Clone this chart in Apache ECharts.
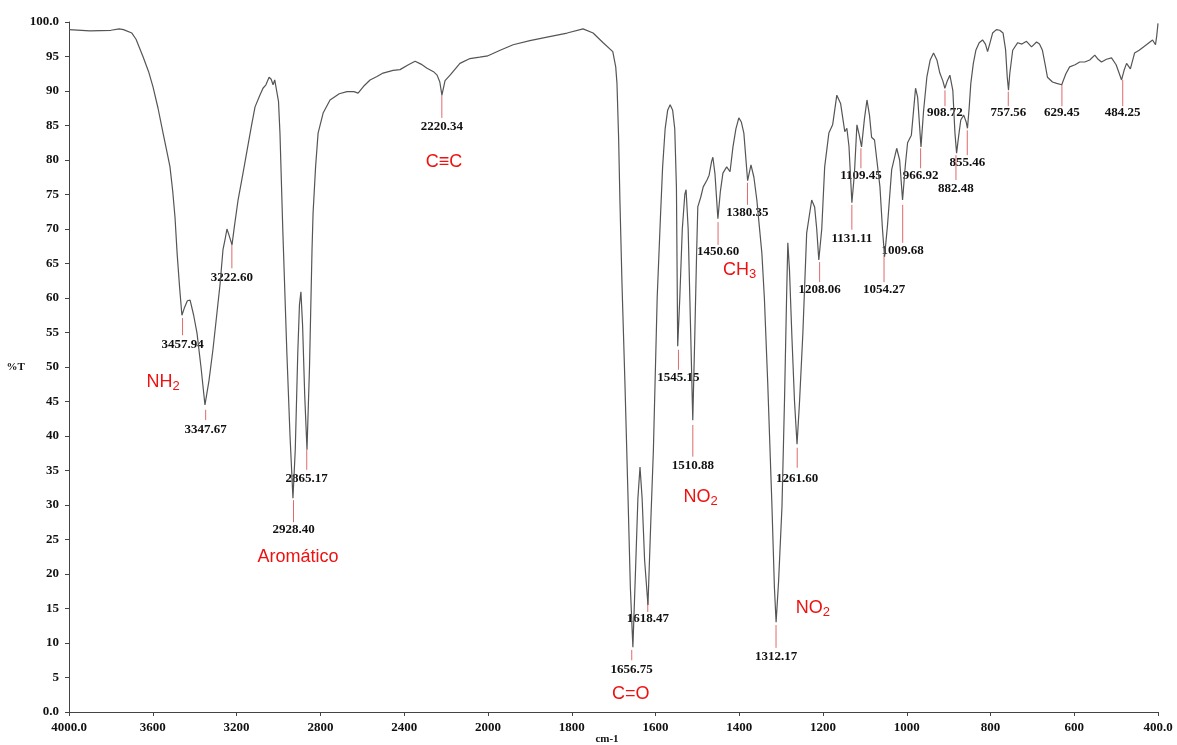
<!DOCTYPE html>
<html>
<head>
<meta charset="utf-8">
<title>Espectro IR</title>
<script src="https://cdn.jsdelivr.net/npm/echarts@6/dist/echarts.min.js"></script>
<style>
  html, body { margin: 0; padding: 0; background: #fff; }
  #chart-container { width: 1177px; height: 745px; }
</style>
</head>
<body>
<div id="chart-container"></div>
<script>
// spectrum (cm-1 / %T)
const wavenumbers = [
  4000, 3900, 3800, 3760, 3740, 3700, 3680, 3647, 3620, 3599,
  3575, 3551, 3530, 3518, 3505, 3494, 3484, 3472, 3461, 3450,
  3435, 3422, 3405, 3389, 3370, 3351, 3332, 3313, 3295, 3279,
  3265, 3255, 3246, 3235, 3222, 3210, 3193, 3170, 3150, 3130,
  3112, 3090, 3074, 3060, 3045, 3035, 3026, 3018, 3012, 3000,
  2993, 2979, 2960, 2945, 2931, 2920, 2908, 2900, 2893, 2885,
  2875, 2864, 2852, 2840, 2835, 2823, 2811, 2787, 2754, 2710,
  2673, 2640, 2620, 2590, 2563, 2530, 2501, 2453, 2420, 2380,
  2348, 2320, 2291, 2260, 2243, 2230, 2220, 2205, 2181, 2134,
  2086, 2040, 2000, 1971, 1940, 1900, 1859, 1811, 1773, 1749,
  1725, 1702, 1695, 1692, 1688, 1685, 1680, 1673, 1666, 1660,
  1654, 1648, 1642, 1637, 1632, 1626, 1618, 1611, 1605, 1596,
  1588, 1583, 1577, 1571, 1565, 1559, 1554, 1550, 1547, 1542,
  1536, 1530, 1527, 1522, 1516, 1511, 1506, 1502, 1499, 1492,
  1486, 1477, 1472, 1466, 1463, 1458, 1451, 1445, 1439, 1430,
  1422, 1415, 1408, 1401, 1395, 1389, 1380, 1372, 1365, 1358,
  1346, 1340, 1332, 1322, 1316, 1312, 1306, 1298, 1292, 1287,
  1284, 1280, 1274, 1268, 1262, 1256, 1248, 1239, 1227, 1220,
  1215, 1210, 1203, 1196, 1186, 1177, 1167, 1158, 1148, 1143,
  1138, 1131, 1125, 1119, 1113, 1108, 1101, 1095, 1089, 1084,
  1077, 1064, 1058, 1053, 1046, 1036, 1024, 1017, 1010, 1003,
  998, 989, 979, 974, 966, 960, 952, 944, 936, 928,
  921, 914, 909, 903, 897, 890, 885, 881, 876, 871,
  864, 858, 855, 851, 847, 841, 835, 827, 819, 812,
  807, 801, 795, 786, 778, 770, 764, 760, 757, 754,
  747, 735, 725, 714, 702, 690, 683, 676, 670, 664,
  652, 642, 630, 620, 611, 598, 587, 575, 563, 551,
  543, 535, 523, 511, 500, 487, 481, 475, 466, 456,
  445, 430, 413, 406, 403, 400
];
const transmittance = [
  98.9, 98.7, 98.8, 99.0, 98.9, 98.4, 97.5, 95.0, 92.8, 90.6,
  87.5, 83.9, 80.8, 79.0, 75.5, 71.7, 66.5, 61.5, 57.5, 58.5,
  59.6, 59.7, 57.5, 54.9, 50.0, 44.5, 48.0, 52.5, 57.5, 62.0,
  67.0, 68.5, 70.0, 69.0, 67.7, 70.5, 74.2, 78.0, 81.4, 84.8,
  87.7, 89.3, 90.4, 90.9, 92.0, 91.7, 90.9, 91.6, 91.7, 88.5,
  83.9, 69.4, 52.0, 40.0, 31.0, 38.0, 52.0, 59.0, 60.9, 56.0,
  46.0, 38.0, 50.0, 67.0, 72.3, 79.0, 83.9, 86.8, 88.7, 89.6,
  89.9, 89.9, 89.7, 90.8, 91.6, 92.1, 92.6, 93.0, 93.1, 93.8,
  94.3, 93.9, 93.3, 92.8, 92.3, 91.3, 89.4, 91.5, 92.3, 94.0,
  94.7, 94.9, 95.1, 95.9, 96.7, 97.3, 97.8, 98.4, 99.0, 98.4,
  97.0, 95.7, 93.5, 91.1, 83.0, 74.2, 62.0, 47.7, 32.0, 18.0,
  9.4, 20.0, 31.0, 35.5, 31.0, 22.0, 15.5, 28.0, 38.0, 60.0,
  72.0, 79.0, 84.5, 87.2, 88.0, 87.2, 84.5, 76.0, 53.0, 60.0,
  70.0, 75.0, 75.7, 70.0, 55.0, 42.3, 55.0, 66.0, 73.2, 74.6,
  76.1, 77.1, 77.8, 79.8, 80.4, 78.0, 71.5, 75.5, 78.1, 79.0,
  78.3, 81.9, 84.5, 86.1, 85.5, 83.9, 77.0, 79.3, 77.5, 74.2,
  66.5, 60.0, 47.7, 30.0, 18.0, 13.0, 19.0, 29.7, 45.0, 60.0,
  68.0, 64.0, 54.0, 45.0, 38.8, 45.0, 55.0, 69.4, 74.2, 73.2,
  70.0, 65.5, 70.0, 79.0, 83.9, 85.1, 89.4, 88.2, 84.1, 84.6,
  82.0, 73.8, 78.0, 85.1, 83.5, 81.9, 86.0, 88.7, 86.5, 83.3,
  82.9, 76.1, 70.0, 66.0, 70.5, 78.6, 81.7, 80.0, 74.2, 79.5,
  82.5, 83.6, 90.4, 89.1, 81.9, 87.0, 92.0, 94.5, 95.5, 94.5,
  92.6, 91.5, 90.4, 91.5, 92.3, 90.1, 84.0, 81.0, 83.5, 85.8,
  86.5, 85.5, 84.6, 87.5, 91.1, 94.0, 95.9, 97.0, 97.4, 96.8,
  95.7, 97.0, 98.4, 98.9, 98.8, 98.4, 96.0, 92.0, 90.1, 92.5,
  95.9, 97.0, 96.8, 97.2, 96.4, 97.1, 96.8, 95.9, 94.0, 92.0,
  91.3, 91.1, 90.9, 92.5, 93.5, 93.8, 94.2, 94.2, 94.5, 95.2,
  94.6, 94.2, 94.6, 94.8, 93.8, 91.6, 93.0, 94.0, 93.2, 95.5,
  95.9, 96.6, 97.4, 96.7, 98.0, 99.8
];

// picked peaks
const peakWavenumbers = [
  3457.94, 3347.67, 3222.60, 2928.40, 2865.17, 2220.34, 1656.75, 1618.47, 1545.15,
  1510.88, 1450.60, 1380.35, 1312.17, 1261.60, 1208.06, 1131.11, 1109.45, 1054.27,
  1009.68, 966.92, 908.72, 882.48, 855.46, 757.56, 629.45, 484.25
];
const peakLabels = peakWavenumbers.map(w => w.toFixed(2));

// functional group notes
const groupNames = ['NH{s|2}', 'Aromático', 'C≡C', 'C=O', 'NO{s|2}', 'CH{s|3}', 'NO{s|2}'];
const groupWavenumbers = [3551, 2907, 2210, 1659, 1492, 1399, 1224];

// placement of the peak marks (in %T): top of red tick, bottom of tick, label centre
const peakTickTop = [57.1, 43.8, 67.7, 30.7, 38.0, 89.4, 9.0, 16.2, 52.5, 41.6, 71.0, 76.7, 12.6,
  38.3, 65.2, 73.5, 81.7, 66.2, 73.5, 81.7, 90.1, 80.7, 84.3, 89.9, 90.9, 91.6];
const peakTickBottom = [54.6, 42.3, 64.3, 27.5, 35.1, 86.1, 7.5, 14.5, 49.6, 37.0, 67.7, 73.5, 9.3,
  35.4, 62.3, 69.9, 78.8, 62.3, 68.0, 78.8, 87.8, 77.1, 80.7, 87.8, 87.8, 87.8];
const peakLabelAt = [53.2, 40.9, 62.9, 26.4, 33.8, 84.9, 6.2, 13.5, 48.4, 35.7, 66.7, 72.3, 8.0,
  33.8, 61.2, 68.6, 77.8, 61.2, 66.8, 77.8, 86.8, 75.8, 79.6, 86.8, 86.8, 86.8];
const groupLabelAt = [47.8, 22.5, 79.7, 2.6, 31.2, 64.0, 15.1];

const BREAK = 2000;

const dom = document.getElementById('chart-container');
const myChart = echarts.init(dom, null, { renderer: 'canvas' });

const spectrum = wavenumbers.map((w, i) => [w, transmittance[i]]);
const highRange = spectrum.filter(p => p[0] >= BREAK);
const lowRange = spectrum.filter(p => p[0] <= BREAK);

const peakItems = peakWavenumbers.map((w, i) => [w, peakTickTop[i], peakTickBottom[i], peakLabelAt[i], i]);
const groupItems = groupWavenumbers.map((w, i) => [w, groupLabelAt[i], i]);

const numberFont = { fontFamily: 'Liberation Serif', fontWeight: 'bold', fontSize: 13 };
const axisColor = '#444';

function renderPeak(params, api) {
  const w = api.value(0);
  const idx = api.value(4);
  const a = api.coord([w, api.value(1)]);
  const b = api.coord([w, api.value(2)]);
  const t = api.coord([w, api.value(3)]);
  return {
    type: 'group',
    children: [
      {
        type: 'line',
        shape: { x1: a[0], y1: a[1], x2: b[0], y2: b[1] },
        style: { stroke: '#e06a6a', lineWidth: 1 }
      },
      {
        type: 'text',
        x: t[0],
        y: t[1],
        style: Object.assign({
          text: peakLabels[idx],
          fill: '#111',
          align: 'center',
          verticalAlign: 'middle'
        }, numberFont)
      }
    ]
  };
}

function renderGroup(params, api) {
  const p = api.coord([api.value(0), api.value(1)]);
  return {
    type: 'text',
    x: p[0],
    y: p[1],
    style: {
      text: groupNames[api.value(2)],
      fill: '#ee1111',
      fontFamily: 'Liberation Sans',
      fontSize: 18,
      align: 'center',
      verticalAlign: 'middle',
      rich: {
        s: {
          fill: '#ee1111',
          fontFamily: 'Liberation Sans',
          fontSize: 13,
          verticalAlign: 'bottom',
          padding: [9, 0, 0, 0]
        }
      }
    }
  };
}

const xAxisCommon = {
  type: 'value',
  inverse: true,
  axisLine: { lineStyle: { color: axisColor, width: 1 } },
  axisTick: { length: 4, lineStyle: { color: axisColor } },
  splitLine: { show: false }
};

const option = {
  backgroundColor: '#fff',
  animation: false,
  grid: [
    { left: 69, width: 419, top: 22, bottom: 33 },
    { left: 488, right: 19, top: 22, bottom: 33 }
  ],
  xAxis: [
    Object.assign({}, xAxisCommon, {
      gridIndex: 0, min: BREAK, max: 4000, interval: 400,
      axisLabel: Object.assign({
        color: '#111', margin: 9,
        formatter: v => (v === 4000 ? '4000.0' : v === BREAK ? '' : String(v))
      }, numberFont)
    }),
    Object.assign({}, xAxisCommon, {
      gridIndex: 1, min: 400, max: BREAK, interval: 200,
      axisLabel: Object.assign({
        color: '#111', margin: 9,
        formatter: v => (v === 400 ? '400.0' : String(v))
      }, numberFont)
    })
  ],
  yAxis: [
    {
      type: 'value', gridIndex: 0, min: 0, max: 100, interval: 5,
      name: '%T', nameLocation: 'middle', nameRotate: 0, nameGap: 38,
      nameTextStyle: Object.assign({ color: '#111' }, numberFont, { fontSize: 11 }),
      axisLine: { show: true, lineStyle: { color: axisColor, width: 1 } },
      axisTick: { show: true, length: 4, lineStyle: { color: axisColor } },
      splitLine: { show: false },
      axisLabel: Object.assign({
        color: '#111', margin: 10,
        formatter: v => (v === 100 ? '100.0' : v === 0 ? '0.0' : String(v))
      }, numberFont)
    },
    {
      type: 'value', gridIndex: 1, min: 0, max: 100, interval: 5,
      axisLine: { show: false }, axisTick: { show: false },
      axisLabel: { show: false }, splitLine: { show: false }
    }
  ],
  graphic: [
    {
      type: 'text', x: 607, y: 739,
      style: Object.assign({ text: 'cm-1', fill: '#111', align: 'center', verticalAlign: 'middle' },
        numberFont, { fontSize: 11 })
    }
  ],
  series: [
    {
      type: 'line', xAxisIndex: 0, yAxisIndex: 0, data: highRange,
      showSymbol: false, lineStyle: { color: '#555', width: 1.2 }
    },
    {
      type: 'line', xAxisIndex: 1, yAxisIndex: 1, data: lowRange,
      showSymbol: false, lineStyle: { color: '#555', width: 1.2 }
    },
    {
      type: 'custom', xAxisIndex: 0, yAxisIndex: 0, clip: false,
      data: peakItems.filter(d => d[0] >= BREAK), renderItem: renderPeak
    },
    {
      type: 'custom', xAxisIndex: 1, yAxisIndex: 1, clip: false,
      data: peakItems.filter(d => d[0] < BREAK), renderItem: renderPeak
    },
    {
      type: 'custom', xAxisIndex: 0, yAxisIndex: 0, clip: false,
      data: groupItems.filter(d => d[0] >= BREAK), renderItem: renderGroup
    },
    {
      type: 'custom', xAxisIndex: 1, yAxisIndex: 1, clip: false,
      data: groupItems.filter(d => d[0] < BREAK), renderItem: renderGroup
    }
  ]
};

myChart.setOption(option);
window.addEventListener('resize', myChart.resize);
</script>
</body>
</html>
